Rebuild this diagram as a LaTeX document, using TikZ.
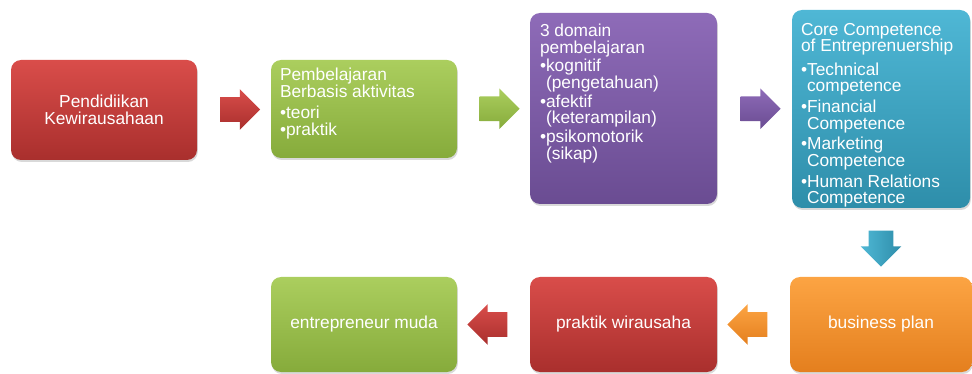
\documentclass[tikz,border=0pt]{standalone}
\usepackage{fontspec}
\setmainfont{Liberation Sans}
\usetikzlibrary{shapes.arrows}
\usetikzlibrary{shadows}
\usetikzlibrary{calc}
\definecolor{redtop}{HTML}{D94D4A}
\definecolor{redbot}{HTML}{A92F2D}
\definecolor{greentop}{HTML}{ABCE5E}
\definecolor{greenbot}{HTML}{86AB3B}
\definecolor{purpletop}{HTML}{8E6BB8}
\definecolor{purplebot}{HTML}{6A4C92}
\definecolor{bluetop}{HTML}{4FB7D5}
\definecolor{bluebot}{HTML}{2E8EAA}
\definecolor{orangetop}{HTML}{FCA443}
\definecolor{orangebot}{HTML}{E47F1E}
\tikzset{box/.style={rounded corners=7.5pt, inner sep=0pt, text=white, align=center,
    font=\fontsize{13}{12.5}\selectfont,
    drop shadow={shadow xshift=0.6pt, shadow yshift=-1.5pt, opacity=0.3}},
  boxtext/.style={anchor=north west, inner sep=0pt, align=left, text=white,
    font=\fontsize{13}{12.5}\selectfont},
  blockarrow/.style={single arrow, inner xsep=0pt, inner ysep=9pt, minimum height=30pt,
    single arrow head extend=6pt, single arrow tip angle=90}}

\begin{document}
\begin{tikzpicture}[x=0.75pt, y=-0.75pt]
  \useasboundingbox (0,0) rectangle (972,374);
  %Boxes
  \node[box, top color=redtop, bottom color=redbot, minimum width=139.5pt, minimum height=75pt]
    (pend) at (104,110) {Pendidiikan\\Kewirausahaan};
  \node[box, top color=greentop, bottom color=greenbot, minimum width=139.5pt, minimum height=73.5pt]
    (pbl) at (364,109) {};
  \node[box, top color=purpletop, bottom color=purplebot, minimum width=140.25pt, minimum height=143.25pt]
    (dom) at (623.5,108.5) {};
  \node[box, top color=bluetop, bottom color=bluebot, minimum width=133.5pt, minimum height=148.5pt]
    (core) at (881,109) {};
  \node[box, top color=orangetop, bottom color=orangebot, minimum width=136.5pt, minimum height=71.25pt]
    (bplan) at (881,324.5) {business plan};
  \node[box, top color=redtop, bottom color=redbot, minimum width=140.25pt, minimum height=71.25pt]
    (prak) at (623.5,324.5) {praktik wirausaha};
  \node[box, top color=greentop, bottom color=greenbot, minimum width=139.5pt, minimum height=71.25pt]
    (muda) at (364,324.5) {entrepreneur muda};
  %Texts
  \node[boxtext] (pbltxt) at ([shift={(9,8)}]pbl.north west)
    {Pembelajaran\\Berbasis aktivitas\\[3.5pt]•teori\\•praktik};
  \node[boxtext] (domtxt) at ([shift={(10,11)}]dom.north west)
    {3 domain\\pembelajaran\\[1.5pt]•kognitif\\\phantom{•}(pengetahuan)\\[1.5pt]•afektif\\\phantom{•}(keterampilan)\\[1.5pt]•psikomotorik\\\phantom{•}(sikap)};
  \node[boxtext] (coretxt) at ([shift={(9,13)}]core.north west)
    {Core Competence\\of Entreprenuership\\[5pt]•Technical\\\phantom{•}competence\\[3pt]•Financial\\\phantom{•}Competence\\[3pt]•Marketing\\\phantom{•}Competence\\[3pt]•Human Relations\\\phantom{•}Competence};
  %Arrows
  \node[blockarrow, top color=redtop, bottom color=redbot] (a1) at ($(pend.east)!0.5!(pbl.west)$) {};
  \node[blockarrow, top color=greentop, bottom color=greenbot] (a2) at ($(pbl.east)!0.5!(dom.west)$) {};
  \node[blockarrow, top color=purpletop, bottom color=purplebot] (a3) at ($(dom.east)!0.5!(core.west)$) {};
  \node[blockarrow, shape border rotate=270, inner xsep=9pt, inner ysep=0pt, minimum height=27pt,
    left color=bluetop, right color=bluebot] (a4) at ($(core.south)!0.5!(bplan.north)$) {};
  \node[blockarrow, shape border rotate=180, top color=orangetop, bottom color=orangebot] (a5) at ($(bplan.west)!0.5!(prak.east)$) {};
  \node[blockarrow, shape border rotate=180, top color=redtop, bottom color=redbot] (a6) at ($(prak.west)!0.5!(muda.east)$) {};
\end{tikzpicture}
\end{document}
